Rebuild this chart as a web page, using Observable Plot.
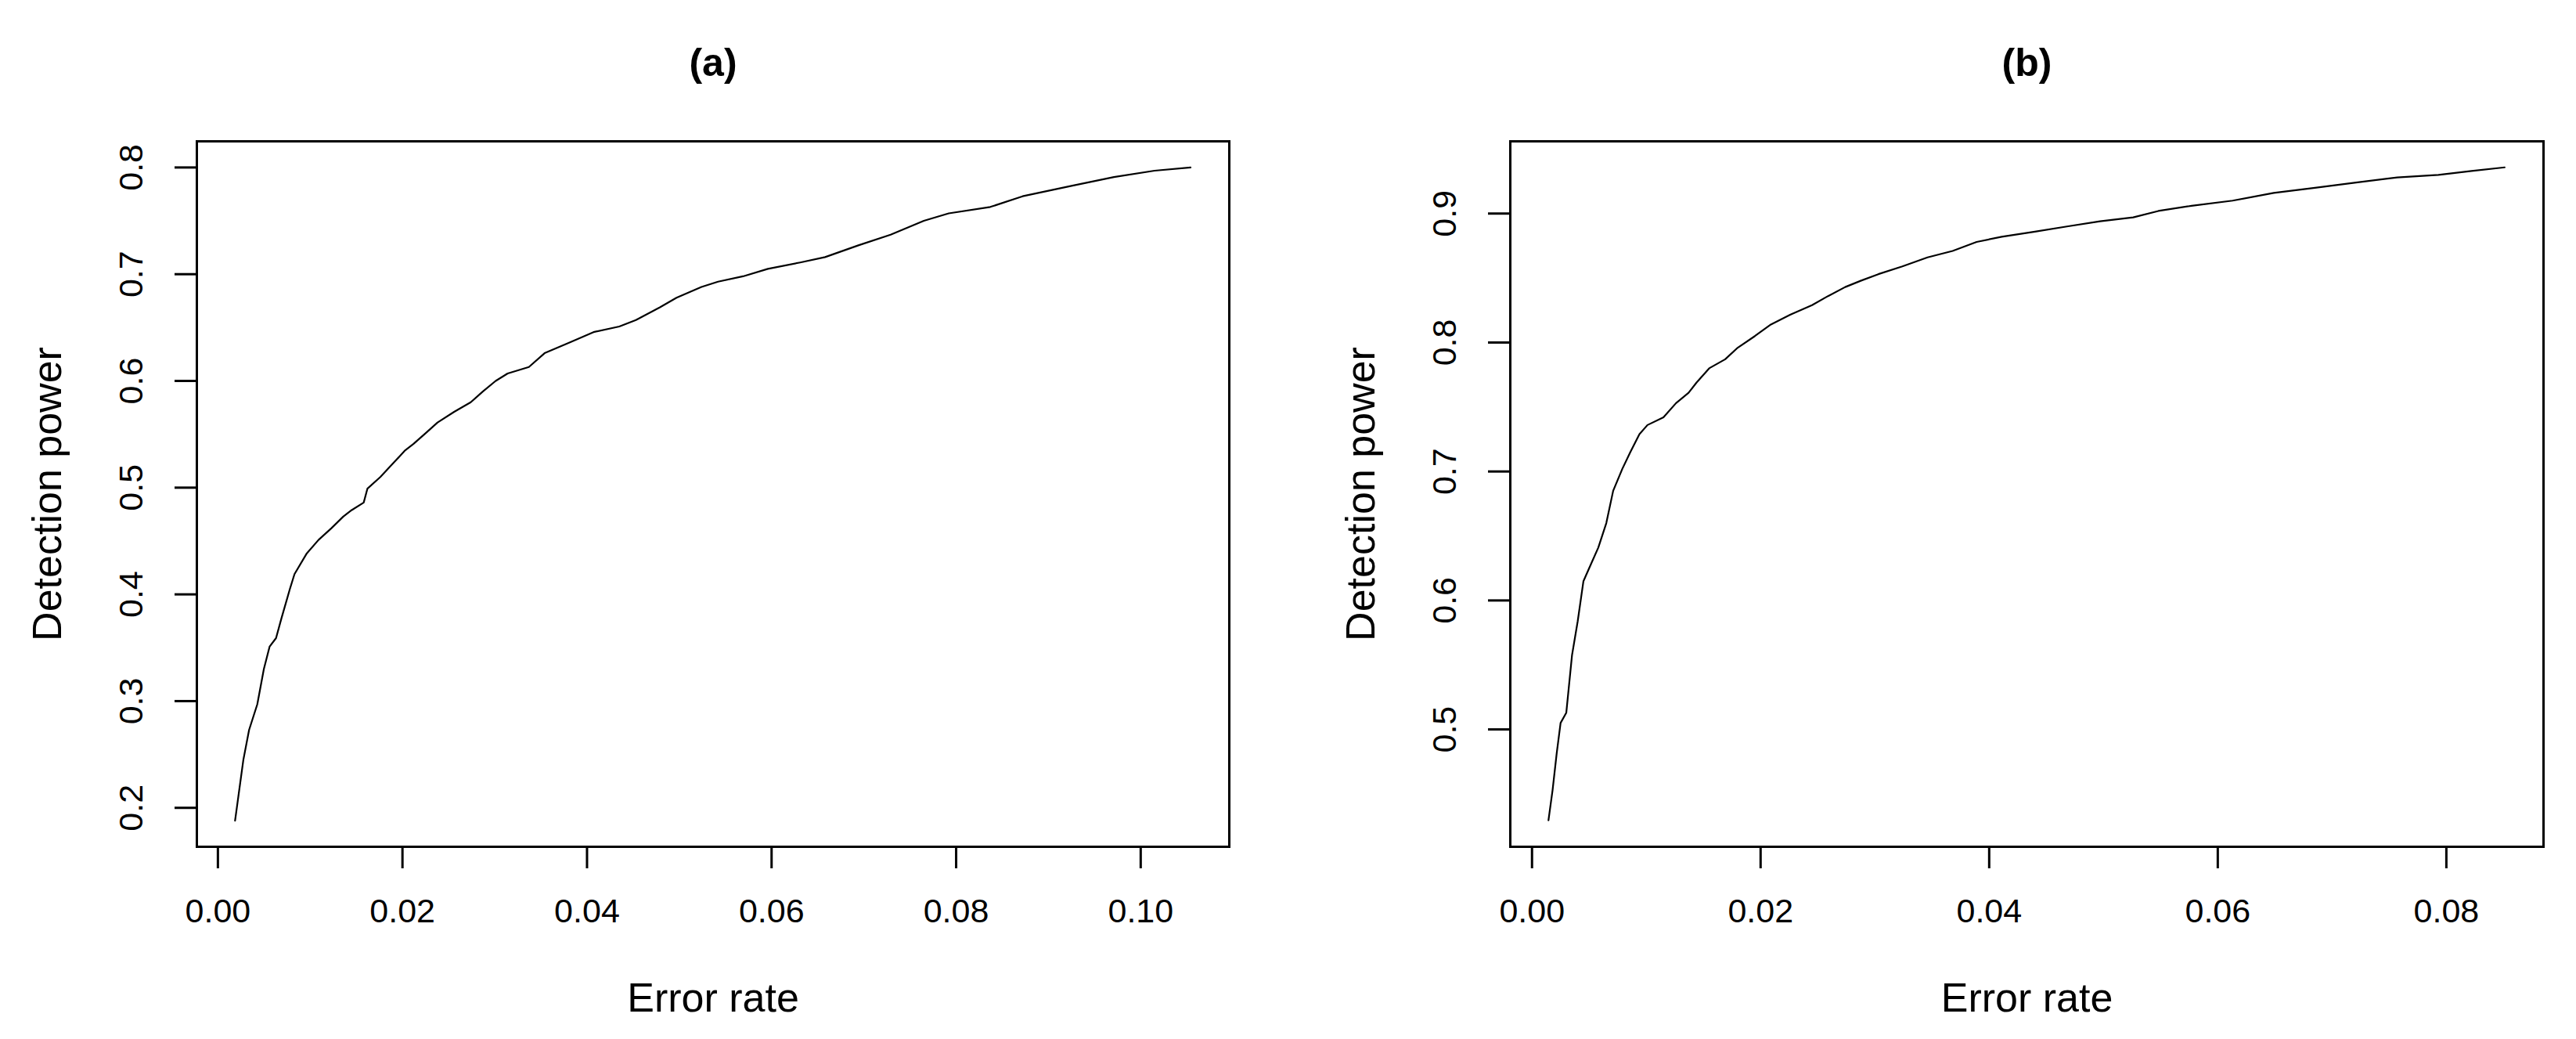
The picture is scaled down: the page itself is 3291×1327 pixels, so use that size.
<!DOCTYPE html>
<html>
<head>
<meta charset="utf-8">
<script src="https://cdn.jsdelivr.net/npm/d3@7"></script>
<script src="https://cdn.jsdelivr.net/npm/@observablehq/plot@0.6"></script>
<style>
  html, body { margin: 0; padding: 0; background: #fff; }
  #wrap { position: relative; width: 3291px; height: 1327px; background: #fff; overflow: hidden; }
  .panel { position: absolute; top: 0; }
  #pa { left: 0; }
  #pb { left: 1645px; }
</style>
</head>
<body>
<div id="wrap">
  <div class="panel" id="pa"></div>
  <div class="panel" id="pb"></div>
</div>
<script>
// ---- Panel (a) data ----
const errorA = [0.00186, 0.00276, 0.00338, 0.00427, 0.00498, 0.0056, 0.0063, 0.0069, 0.0078, 0.0083, 0.0096, 0.0109, 0.0123, 0.0136, 0.0145, 0.0158, 0.0162, 0.0176, 0.0189, 0.0203, 0.0212, 0.0225, 0.0238, 0.0256, 0.0274, 0.0287, 0.0301, 0.0314, 0.0337, 0.0354, 0.0381, 0.0408, 0.0435, 0.0453, 0.0479, 0.0497, 0.0524, 0.0542, 0.0569, 0.0596, 0.0631, 0.0658, 0.0694, 0.0729, 0.0765, 0.0792, 0.0837, 0.0872, 0.0926, 0.0971, 0.1015, 0.1054];
const powerA = [0.188, 0.245, 0.273, 0.297, 0.330, 0.351, 0.359, 0.378, 0.405, 0.419, 0.438, 0.451, 0.462, 0.473, 0.479, 0.486, 0.499, 0.510, 0.522, 0.535, 0.541, 0.551, 0.561, 0.571, 0.580, 0.590, 0.600, 0.607, 0.613, 0.626, 0.636, 0.646, 0.651, 0.657, 0.669, 0.678, 0.688, 0.693, 0.698, 0.705, 0.711, 0.716, 0.727, 0.737, 0.750, 0.757, 0.763, 0.773, 0.783, 0.791, 0.797, 0.800];

// ---- Panel (b) data ----
const errorB = [0.00144, 0.0018, 0.00216, 0.0025, 0.0030, 0.0035, 0.0040, 0.0045, 0.0049, 0.0058, 0.0065, 0.0071, 0.0079, 0.0086, 0.0094, 0.0101, 0.0115, 0.0126, 0.0137, 0.0144, 0.0155, 0.0169, 0.0180, 0.0195, 0.0209, 0.0227, 0.0245, 0.0259, 0.0274, 0.0288, 0.0303, 0.0324, 0.0346, 0.0368, 0.0389, 0.0411, 0.0440, 0.0468, 0.0497, 0.0526, 0.0548, 0.0577, 0.0613, 0.0649, 0.0685, 0.0721, 0.0757, 0.0793, 0.0822, 0.0851];
const powerB = [0.4296, 0.453, 0.4815, 0.505, 0.513, 0.5575, 0.584, 0.615, 0.623, 0.641, 0.660, 0.685, 0.702, 0.715, 0.729, 0.736, 0.742, 0.753, 0.761, 0.769, 0.780, 0.787, 0.796, 0.805, 0.814, 0.822, 0.829, 0.836, 0.843, 0.848, 0.853, 0.859, 0.866, 0.871, 0.878, 0.882, 0.886, 0.890, 0.894, 0.897, 0.902, 0.906, 0.910, 0.916, 0.920, 0.924, 0.928, 0.930, 0.933, 0.9358];

// ---- Tick values and labels ----
const xTicksA = [0, 0.02, 0.04, 0.06, 0.08, 0.10];
const yTicksA = [0.2, 0.3, 0.4, 0.5, 0.6, 0.7, 0.8];
const xTicksB = [0, 0.02, 0.04, 0.06, 0.08];
const yTicksB = [0.5, 0.6, 0.7, 0.8, 0.9];
const titles = ["(a)", "(b)"];
const xLabel = "Error rate";
const yLabel = "Detection power";

const FONT = "'Liberation Sans', Arial, Helvetica, sans-serif";

function panel({errors, powers, xTicks, yTicks, xDomain, yDomain, title, width, marginLeft, marginRight}) {
  const data = errors.map((e, i) => ({e, p: powers[i]}));
  return Plot.plot({
    width,
    height: 1327,
    marginLeft,
    marginRight,
    marginTop: 180,
    marginBottom: 246,
    style: {fontFamily: FONT, background: "white", color: "black", overflow: "visible"},
    x: {domain: xDomain},
    y: {domain: yDomain},
    marks: [
      Plot.frame({stroke: "black", strokeWidth: 3}),
      Plot.axisX({
        ticks: xTicks, tickFormat: d3.format(".2f"), tickSize: 28, tickPadding: 55,
        strokeWidth: 3, fontSize: 43, lineAnchor: "middle", label: null
      }),
      // y tick marks (horizontal)
      Plot.axisY({
        ticks: yTicks, tickFormat: () => "", tickSize: 28, strokeWidth: 3, label: null
      }),
      // y tick labels (rotated, reading upward)
      Plot.axisY({
        ticks: yTicks, tickFormat: d3.format(".1f"), tickSize: 0, tickPadding: 83,
        fontSize: 43, rotate: -90, textAnchor: "middle", lineAnchor: "middle", label: null
      }),
      Plot.line(data, {x: "e", y: "p", stroke: "black", strokeWidth: 2.2}),
      Plot.text([xLabel], {text: d => d, frameAnchor: "bottom", dy: 194, fontSize: 52, lineAnchor: "middle", fill: "black"}),
      Plot.text([yLabel], {text: d => d, frameAnchor: "left", dx: -190, rotate: -90, fontSize: 52, textAnchor: "middle", lineAnchor: "middle", fill: "black"}),
      Plot.text([title], {text: d => d, frameAnchor: "top", dy: -100, fontSize: 50, fontWeight: "bold", lineAnchor: "middle", fill: "black"})
    ]
  });
}

document.getElementById("pa").appendChild(panel({
  errors: errorA, powers: powerA, xTicks: xTicksA, yTicks: yTicksA,
  xDomain: [-0.00228, 0.1096], yDomain: [0.1635, 0.8245], title: titles[0],
  width: 1645, marginLeft: 251, marginRight: 75
}));
document.getElementById("pb").appendChild(panel({
  errors: errorB, powers: powerB, xTicks: xTicksB, yTicks: yTicksB,
  xDomain: [-0.0019, 0.0885], yDomain: [0.409, 0.956], title: titles[1],
  width: 1646, marginLeft: 284, marginRight: 42
}));
</script>
</body>
</html>
